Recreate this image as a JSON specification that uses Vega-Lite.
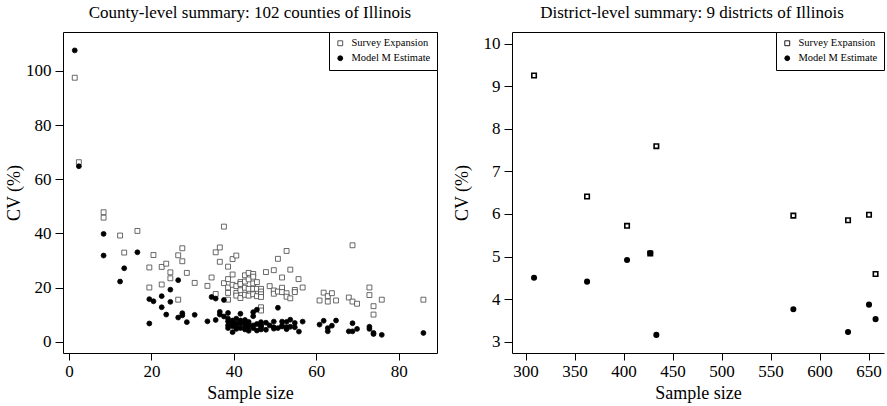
{
  "$schema": "https://vega.github.io/schema/vega-lite/v6.json",
  "padding": {"left": 5, "top": 3, "right": 0, "bottom": 0},
  "spacing": 15,
  "config": {
    "font": "Liberation Serif",
    "view": {"stroke": "black", "strokeWidth": 1},
    "style": {"guide-title": {"font": "Liberation Serif", "fontWeight": "normal", "fontSize": 18, "fill": "black"}, "guide-label": {"font": "Liberation Serif", "fontSize": 17, "fill": "black"}},
    "axis": {"grid": false, "domain": false, "tickColor": "black", "tickSize": 7, "labelFontSize": 17, "titleFontSize": 18, "labelColor": "black", "titleColor": "black", "titleFontWeight": "normal", "labelFont": "Liberation Serif", "titleFont": "Liberation Serif", "labelPadding": 3, "titlePadding": 5},
    "axisY": {"tickSize": 8, "labelPadding": 4},
    "title": {"font": "Liberation Serif", "fontSize": 17, "fontWeight": "normal", "color": "black", "anchor": "middle", "offset": 10},
    "legend": {"orient": "top-right", "offset": 0, "strokeColor": "black", "fillColor": "white", "padding": 6, "labelFont": "Liberation Serif", "labelFontSize": 10.5, "labelColor": "black", "symbolStrokeWidth": 0.9, "symbolSize": 24, "labelOffset": 6, "rowPadding": 4, "cornerRadius": 0}
  },
  "datasets": {
    "county": [
      {"n": 1.4, "cv": 97.5, "series": "Survey Expansion"},
      {"n": 2.4, "cv": 66.3, "series": "Survey Expansion"},
      {"n": 8.4, "cv": 47.8, "series": "Survey Expansion"},
      {"n": 8.4, "cv": 45.8, "series": "Survey Expansion"},
      {"n": 12.4, "cv": 39.2, "series": "Survey Expansion"},
      {"n": 13.4, "cv": 32.9, "series": "Survey Expansion"},
      {"n": 16.6, "cv": 40.9, "series": "Survey Expansion"},
      {"n": 19.5, "cv": 27.4, "series": "Survey Expansion"},
      {"n": 19.5, "cv": 20.0, "series": "Survey Expansion"},
      {"n": 20.5, "cv": 32.0, "series": "Survey Expansion"},
      {"n": 22.5, "cv": 27.6, "series": "Survey Expansion"},
      {"n": 22.5, "cv": 21.1, "series": "Survey Expansion"},
      {"n": 23.6, "cv": 28.8, "series": "Survey Expansion"},
      {"n": 24.6, "cv": 25.6, "series": "Survey Expansion"},
      {"n": 24.6, "cv": 23.4, "series": "Survey Expansion"},
      {"n": 26.5, "cv": 31.9, "series": "Survey Expansion"},
      {"n": 26.5, "cv": 15.5, "series": "Survey Expansion"},
      {"n": 27.5, "cv": 34.5, "series": "Survey Expansion"},
      {"n": 27.5, "cv": 29.7, "series": "Survey Expansion"},
      {"n": 28.6, "cv": 25.4, "series": "Survey Expansion"},
      {"n": 30.5, "cv": 21.7, "series": "Survey Expansion"},
      {"n": 33.6, "cv": 20.6, "series": "Survey Expansion"},
      {"n": 34.6, "cv": 23.7, "series": "Survey Expansion"},
      {"n": 35.6, "cv": 33.0, "series": "Survey Expansion"},
      {"n": 35.6, "cv": 17.6, "series": "Survey Expansion"},
      {"n": 36.6, "cv": 34.8, "series": "Survey Expansion"},
      {"n": 36.6, "cv": 29.5, "series": "Survey Expansion"},
      {"n": 37.6, "cv": 42.5, "series": "Survey Expansion"},
      {"n": 37.6, "cv": 21.6, "series": "Survey Expansion"},
      {"n": 38.6, "cv": 27.7, "series": "Survey Expansion"},
      {"n": 38.6, "cv": 23.1, "series": "Survey Expansion"},
      {"n": 38.6, "cv": 20.0, "series": "Survey Expansion"},
      {"n": 38.6, "cv": 18.0, "series": "Survey Expansion"},
      {"n": 38.6, "cv": 15.5, "series": "Survey Expansion"},
      {"n": 39.7, "cv": 30.5, "series": "Survey Expansion"},
      {"n": 39.7, "cv": 24.8, "series": "Survey Expansion"},
      {"n": 39.7, "cv": 21.0, "series": "Survey Expansion"},
      {"n": 40.6, "cv": 31.8, "series": "Survey Expansion"},
      {"n": 40.6, "cv": 20.5, "series": "Survey Expansion"},
      {"n": 40.6, "cv": 18.0, "series": "Survey Expansion"},
      {"n": 40.6, "cv": 17.0, "series": "Survey Expansion"},
      {"n": 41.6, "cv": 22.0, "series": "Survey Expansion"},
      {"n": 41.6, "cv": 21.3, "series": "Survey Expansion"},
      {"n": 41.6, "cv": 19.0, "series": "Survey Expansion"},
      {"n": 41.6, "cv": 16.1, "series": "Survey Expansion"},
      {"n": 42.7, "cv": 24.5, "series": "Survey Expansion"},
      {"n": 42.7, "cv": 22.2, "series": "Survey Expansion"},
      {"n": 42.7, "cv": 19.9, "series": "Survey Expansion"},
      {"n": 42.7, "cv": 17.3, "series": "Survey Expansion"},
      {"n": 43.6, "cv": 25.4, "series": "Survey Expansion"},
      {"n": 43.6, "cv": 23.0, "series": "Survey Expansion"},
      {"n": 43.6, "cv": 19.5, "series": "Survey Expansion"},
      {"n": 43.6, "cv": 17.0, "series": "Survey Expansion"},
      {"n": 44.7, "cv": 25.0, "series": "Survey Expansion"},
      {"n": 44.7, "cv": 24.0, "series": "Survey Expansion"},
      {"n": 44.7, "cv": 21.5, "series": "Survey Expansion"},
      {"n": 44.7, "cv": 19.5, "series": "Survey Expansion"},
      {"n": 44.7, "cv": 17.5, "series": "Survey Expansion"},
      {"n": 45.6, "cv": 22.0, "series": "Survey Expansion"},
      {"n": 45.6, "cv": 19.5, "series": "Survey Expansion"},
      {"n": 45.6, "cv": 16.8, "series": "Survey Expansion"},
      {"n": 46.6, "cv": 19.5, "series": "Survey Expansion"},
      {"n": 46.6, "cv": 18.5, "series": "Survey Expansion"},
      {"n": 46.6, "cv": 17.5, "series": "Survey Expansion"},
      {"n": 46.6, "cv": 16.5, "series": "Survey Expansion"},
      {"n": 46.6, "cv": 12.7, "series": "Survey Expansion"},
      {"n": 46.6, "cv": 11.5, "series": "Survey Expansion"},
      {"n": 47.8, "cv": 25.7, "series": "Survey Expansion"},
      {"n": 48.7, "cv": 20.5, "series": "Survey Expansion"},
      {"n": 49.7, "cv": 26.4, "series": "Survey Expansion"},
      {"n": 49.7, "cv": 18.9, "series": "Survey Expansion"},
      {"n": 49.7, "cv": 17.7, "series": "Survey Expansion"},
      {"n": 50.7, "cv": 30.6, "series": "Survey Expansion"},
      {"n": 50.7, "cv": 18.5, "series": "Survey Expansion"},
      {"n": 51.7, "cv": 23.7, "series": "Survey Expansion"},
      {"n": 51.7, "cv": 19.9, "series": "Survey Expansion"},
      {"n": 51.7, "cv": 18.3, "series": "Survey Expansion"},
      {"n": 52.8, "cv": 33.5, "series": "Survey Expansion"},
      {"n": 52.8, "cv": 17.9, "series": "Survey Expansion"},
      {"n": 52.8, "cv": 16.6, "series": "Survey Expansion"},
      {"n": 53.7, "cv": 26.6, "series": "Survey Expansion"},
      {"n": 53.7, "cv": 16.0, "series": "Survey Expansion"},
      {"n": 54.8, "cv": 19.1, "series": "Survey Expansion"},
      {"n": 54.8, "cv": 18.3, "series": "Survey Expansion"},
      {"n": 55.7, "cv": 23.1, "series": "Survey Expansion"},
      {"n": 56.7, "cv": 20.0, "series": "Survey Expansion"},
      {"n": 60.8, "cv": 15.2, "series": "Survey Expansion"},
      {"n": 61.8, "cv": 18.1, "series": "Survey Expansion"},
      {"n": 62.8, "cv": 16.8, "series": "Survey Expansion"},
      {"n": 62.8, "cv": 14.8, "series": "Survey Expansion"},
      {"n": 63.8, "cv": 17.9, "series": "Survey Expansion"},
      {"n": 64.8, "cv": 15.2, "series": "Survey Expansion"},
      {"n": 67.9, "cv": 16.3, "series": "Survey Expansion"},
      {"n": 68.8, "cv": 35.6, "series": "Survey Expansion"},
      {"n": 68.8, "cv": 14.8, "series": "Survey Expansion"},
      {"n": 69.9, "cv": 14.0, "series": "Survey Expansion"},
      {"n": 72.9, "cv": 20.0, "series": "Survey Expansion"},
      {"n": 72.9, "cv": 17.2, "series": "Survey Expansion"},
      {"n": 73.9, "cv": 13.1, "series": "Survey Expansion"},
      {"n": 73.9, "cv": 10.0, "series": "Survey Expansion"},
      {"n": 75.9, "cv": 15.5, "series": "Survey Expansion"},
      {"n": 86.0, "cv": 15.5, "series": "Survey Expansion"},
      {"n": 1.4, "cv": 107.6, "series": "Model M Estimate"},
      {"n": 2.4, "cv": 64.8, "series": "Model M Estimate"},
      {"n": 8.4, "cv": 39.8, "series": "Model M Estimate"},
      {"n": 8.4, "cv": 31.8, "series": "Model M Estimate"},
      {"n": 12.4, "cv": 22.2, "series": "Model M Estimate"},
      {"n": 13.4, "cv": 27.1, "series": "Model M Estimate"},
      {"n": 16.6, "cv": 33.0, "series": "Model M Estimate"},
      {"n": 19.5, "cv": 15.7, "series": "Model M Estimate"},
      {"n": 19.5, "cv": 6.7, "series": "Model M Estimate"},
      {"n": 20.5, "cv": 14.9, "series": "Model M Estimate"},
      {"n": 22.5, "cv": 16.8, "series": "Model M Estimate"},
      {"n": 22.5, "cv": 12.7, "series": "Model M Estimate"},
      {"n": 23.6, "cv": 10.0, "series": "Model M Estimate"},
      {"n": 24.6, "cv": 19.2, "series": "Model M Estimate"},
      {"n": 24.6, "cv": 14.7, "series": "Model M Estimate"},
      {"n": 26.5, "cv": 22.7, "series": "Model M Estimate"},
      {"n": 26.5, "cv": 8.9, "series": "Model M Estimate"},
      {"n": 27.5, "cv": 10.5, "series": "Model M Estimate"},
      {"n": 27.5, "cv": 9.7, "series": "Model M Estimate"},
      {"n": 28.6, "cv": 7.2, "series": "Model M Estimate"},
      {"n": 30.5, "cv": 9.9, "series": "Model M Estimate"},
      {"n": 33.6, "cv": 7.5, "series": "Model M Estimate"},
      {"n": 34.6, "cv": 16.5, "series": "Model M Estimate"},
      {"n": 35.6, "cv": 15.9, "series": "Model M Estimate"},
      {"n": 35.6, "cv": 8.0, "series": "Model M Estimate"},
      {"n": 36.6, "cv": 11.0, "series": "Model M Estimate"},
      {"n": 36.6, "cv": 10.0, "series": "Model M Estimate"},
      {"n": 37.6, "cv": 15.4, "series": "Model M Estimate"},
      {"n": 37.6, "cv": 9.3, "series": "Model M Estimate"},
      {"n": 38.6, "cv": 10.6, "series": "Model M Estimate"},
      {"n": 38.6, "cv": 8.5, "series": "Model M Estimate"},
      {"n": 38.6, "cv": 7.5, "series": "Model M Estimate"},
      {"n": 38.6, "cv": 6.0, "series": "Model M Estimate"},
      {"n": 38.6, "cv": 5.0, "series": "Model M Estimate"},
      {"n": 39.7, "cv": 7.8, "series": "Model M Estimate"},
      {"n": 39.7, "cv": 6.7, "series": "Model M Estimate"},
      {"n": 39.7, "cv": 5.7, "series": "Model M Estimate"},
      {"n": 39.7, "cv": 3.5, "series": "Model M Estimate"},
      {"n": 40.6, "cv": 8.5, "series": "Model M Estimate"},
      {"n": 40.6, "cv": 6.7, "series": "Model M Estimate"},
      {"n": 40.6, "cv": 5.5, "series": "Model M Estimate"},
      {"n": 40.6, "cv": 4.7, "series": "Model M Estimate"},
      {"n": 41.6, "cv": 10.3, "series": "Model M Estimate"},
      {"n": 41.6, "cv": 7.8, "series": "Model M Estimate"},
      {"n": 41.6, "cv": 6.7, "series": "Model M Estimate"},
      {"n": 41.6, "cv": 5.0, "series": "Model M Estimate"},
      {"n": 42.7, "cv": 8.0, "series": "Model M Estimate"},
      {"n": 42.7, "cv": 6.7, "series": "Model M Estimate"},
      {"n": 42.7, "cv": 5.7, "series": "Model M Estimate"},
      {"n": 42.7, "cv": 4.5, "series": "Model M Estimate"},
      {"n": 43.6, "cv": 7.3, "series": "Model M Estimate"},
      {"n": 43.6, "cv": 6.5, "series": "Model M Estimate"},
      {"n": 43.6, "cv": 5.5, "series": "Model M Estimate"},
      {"n": 43.6, "cv": 4.0, "series": "Model M Estimate"},
      {"n": 44.7, "cv": 10.9, "series": "Model M Estimate"},
      {"n": 44.7, "cv": 9.4, "series": "Model M Estimate"},
      {"n": 44.7, "cv": 6.0, "series": "Model M Estimate"},
      {"n": 44.7, "cv": 5.0, "series": "Model M Estimate"},
      {"n": 45.6, "cv": 11.8, "series": "Model M Estimate"},
      {"n": 45.6, "cv": 6.5, "series": "Model M Estimate"},
      {"n": 45.6, "cv": 4.1, "series": "Model M Estimate"},
      {"n": 46.6, "cv": 7.2, "series": "Model M Estimate"},
      {"n": 46.6, "cv": 6.3, "series": "Model M Estimate"},
      {"n": 46.6, "cv": 5.8, "series": "Model M Estimate"},
      {"n": 46.6, "cv": 5.3, "series": "Model M Estimate"},
      {"n": 46.6, "cv": 4.5, "series": "Model M Estimate"},
      {"n": 47.8, "cv": 7.0, "series": "Model M Estimate"},
      {"n": 47.8, "cv": 4.4, "series": "Model M Estimate"},
      {"n": 48.7, "cv": 6.0, "series": "Model M Estimate"},
      {"n": 49.7, "cv": 7.4, "series": "Model M Estimate"},
      {"n": 49.7, "cv": 5.3, "series": "Model M Estimate"},
      {"n": 49.7, "cv": 4.8, "series": "Model M Estimate"},
      {"n": 50.7, "cv": 12.5, "series": "Model M Estimate"},
      {"n": 50.7, "cv": 5.0, "series": "Model M Estimate"},
      {"n": 51.7, "cv": 7.4, "series": "Model M Estimate"},
      {"n": 51.7, "cv": 5.9, "series": "Model M Estimate"},
      {"n": 51.7, "cv": 5.6, "series": "Model M Estimate"},
      {"n": 52.8, "cv": 7.3, "series": "Model M Estimate"},
      {"n": 52.8, "cv": 5.3, "series": "Model M Estimate"},
      {"n": 52.8, "cv": 4.6, "series": "Model M Estimate"},
      {"n": 53.7, "cv": 8.1, "series": "Model M Estimate"},
      {"n": 53.7, "cv": 5.5, "series": "Model M Estimate"},
      {"n": 54.8, "cv": 6.9, "series": "Model M Estimate"},
      {"n": 54.8, "cv": 5.3, "series": "Model M Estimate"},
      {"n": 55.8, "cv": 3.7, "series": "Model M Estimate"},
      {"n": 56.7, "cv": 7.4, "series": "Model M Estimate"},
      {"n": 60.8, "cv": 6.3, "series": "Model M Estimate"},
      {"n": 61.8, "cv": 7.7, "series": "Model M Estimate"},
      {"n": 62.8, "cv": 5.0, "series": "Model M Estimate"},
      {"n": 62.8, "cv": 3.8, "series": "Model M Estimate"},
      {"n": 63.8, "cv": 5.9, "series": "Model M Estimate"},
      {"n": 64.8, "cv": 7.8, "series": "Model M Estimate"},
      {"n": 67.9, "cv": 3.8, "series": "Model M Estimate"},
      {"n": 68.8, "cv": 6.8, "series": "Model M Estimate"},
      {"n": 68.8, "cv": 3.8, "series": "Model M Estimate"},
      {"n": 69.9, "cv": 4.7, "series": "Model M Estimate"},
      {"n": 72.9, "cv": 5.5, "series": "Model M Estimate"},
      {"n": 72.9, "cv": 4.7, "series": "Model M Estimate"},
      {"n": 73.9, "cv": 3.2, "series": "Model M Estimate"},
      {"n": 73.9, "cv": 2.8, "series": "Model M Estimate"},
      {"n": 75.9, "cv": 2.5, "series": "Model M Estimate"},
      {"n": 86.0, "cv": 3.2, "series": "Model M Estimate"}
    ],
    "district": [
      {"n": 308.6, "cv": 9.25, "series": "Survey Expansion"},
      {"n": 362.7, "cv": 6.41, "series": "Survey Expansion"},
      {"n": 403.5, "cv": 5.72, "series": "Survey Expansion"},
      {"n": 427.2, "cv": 5.07, "series": "Survey Expansion"},
      {"n": 433.4, "cv": 7.59, "series": "Survey Expansion"},
      {"n": 573.2, "cv": 5.96, "series": "Survey Expansion"},
      {"n": 629.0, "cv": 5.85, "series": "Survey Expansion"},
      {"n": 650.4, "cv": 5.98, "series": "Survey Expansion"},
      {"n": 657.1, "cv": 4.59, "series": "Survey Expansion"},
      {"n": 308.6, "cv": 4.50, "series": "Model M Estimate"},
      {"n": 362.7, "cv": 4.41, "series": "Model M Estimate"},
      {"n": 403.5, "cv": 4.92, "series": "Model M Estimate"},
      {"n": 427.2, "cv": 5.08, "series": "Model M Estimate"},
      {"n": 433.4, "cv": 3.16, "series": "Model M Estimate"},
      {"n": 573.2, "cv": 3.76, "series": "Model M Estimate"},
      {"n": 629.0, "cv": 3.23, "series": "Model M Estimate"},
      {"n": 650.4, "cv": 3.87, "series": "Model M Estimate"},
      {"n": 657.1, "cv": 3.53, "series": "Model M Estimate"}
    ]
  },
  "resolve": {"scale": {"shape": "independent", "fill": "independent", "stroke": "independent"}},
  "hconcat": [
    {
      "width": 374,
      "height": 321,
      "title": "County-level summary: 102 counties of Illinois",
      "data": {"name": "county"},
      "mark": {"type": "point", "filled": true, "strokeWidth": 0.8, "size": 24, "opacity": 1},
      "encoding": {
        "x": {"field": "n", "type": "quantitative", "title": "Sample size", "scale": {"domain": [-1.45, 89.3], "nice": false, "zero": false}, "axis": {"values": [0, 20, 40, 60, 80], "titleFont": "Liberation Serif", "titleFontWeight": "normal", "titleFontSize": 18}},
        "y": {"field": "cv", "type": "quantitative", "title": "CV (%)", "scale": {"domain": [-4.2, 114.4], "nice": false, "zero": false}, "axis": {"values": [0, 20, 40, 60, 80, 100], "titlePadding": 2}},
        "shape": {"field": "series", "type": "nominal", "scale": {"domain": ["Survey Expansion", "Model M Estimate"], "range": ["square", "circle"]}, "legend": {"title": null}},
        "fill": {"field": "series", "type": "nominal", "scale": {"domain": ["Survey Expansion", "Model M Estimate"], "range": ["white", "black"]}, "legend": {"title": null}},
        "stroke": {"field": "series", "type": "nominal", "scale": {"domain": ["Survey Expansion", "Model M Estimate"], "range": ["#444444", "black"]}, "legend": {"title": null}}
      }
    },
    {
      "width": 372,
      "height": 321,
      "title": {"text": "District-level summary: 9 districts of Illinois", "dx": -6},
      "data": {"name": "district"},
      "view": {"stroke": null},
      "layer": [
        {
          "mark": {"type": "point", "filled": true, "strokeWidth": 1.6, "size": 20, "opacity": 1},
          "encoding": {
            "x": {"field": "n", "type": "quantitative", "title": "Sample size", "scale": {"domain": [286.1, 665.7], "nice": false, "zero": false}, "axis": {"values": [300, 350, 400, 450, 500, 550, 600, 650], "domain": true, "domainColor": "black", "titleFont": "Liberation Serif", "titleFontWeight": "normal", "titleFontSize": 18}},
            "y": {"field": "cv", "type": "quantitative", "title": "CV (%)", "scale": {"domain": [2.735, 10.27], "nice": false, "zero": false}, "axis": {"values": [3, 4, 5, 6, 7, 8, 9, 10], "domain": true, "domainColor": "black", "titlePadding": 12}},
            "shape": {"field": "series", "type": "nominal", "scale": {"domain": ["Survey Expansion", "Model M Estimate"], "range": ["square", "circle"]}, "legend": {"title": null}},
            "fill": {"field": "series", "type": "nominal", "scale": {"domain": ["Survey Expansion", "Model M Estimate"], "range": ["white", "black"]}, "legend": {"title": null}},
            "stroke": {"field": "series", "type": "nominal", "scale": {"domain": ["Survey Expansion", "Model M Estimate"], "range": ["black", "black"]}, "legend": {"title": null}}
          }
        },
        {
          "mark": {"type": "point", "opacity": 0, "size": 1},
          "encoding": {
            "x": {"field": "n", "type": "quantitative", "scale": {"domain": [286.1, 665.7], "nice": false, "zero": false}, "axis": {"orient": "top", "labels": false, "ticks": false, "domain": true, "domainColor": "black", "title": null}},
            "y": {"field": "cv", "type": "quantitative", "title": "CV (%)", "scale": {"domain": [2.735, 10.27], "nice": false, "zero": false}}
          }
        }
      ],
      "resolve": {"axis": {"x": "independent"}}
    }
  ]
}
